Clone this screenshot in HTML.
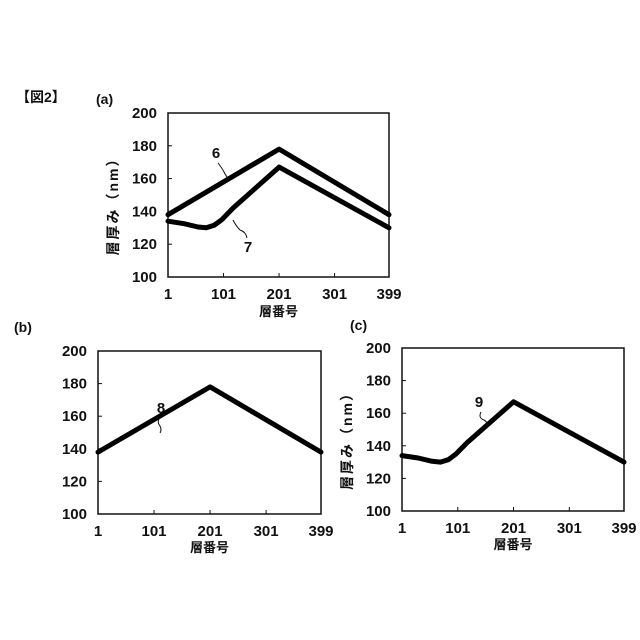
<!DOCTYPE html>
<html><head><meta charset="utf-8"><style>
body{margin:0;background:#fff}
svg{display:block}
text{font-family:"Liberation Sans","Noto Sans CJK JP",sans-serif;font-weight:bold;fill:#111}
</style></head><body>
<svg id="s" width="640" height="640" xmlns="http://www.w3.org/2000/svg">
<text x="16" y="102" font-size="14">【図2】</text>
<text x="96" y="104" font-size="14" font-weight="normal">(a)</text>
<text x="14" y="332" font-size="14" font-weight="normal">(b)</text>
<text x="350" y="330" font-size="14" font-weight="normal">(c)</text>
</svg>
<script>
const s=document.getElementById('s');const NS='http://www.w3.org/2000/svg';
function el(t,a,txt){const e=document.createElementNS(NS,t);for(const k in a)e.setAttribute(k,a[k]);if(txt!==undefined)e.textContent=txt;s.appendChild(e);return e;}
function panel(L,T,W,H,ytitle,xtY,series){
 el('rect',{x:L,y:T,width:W,height:H,fill:'none',stroke:'#111','stroke-width':1.5});
 [0,20,40,60,80,100].forEach(d=>{const y=T+H-d/100*H;el('text',{x:L-11,y:y+5,'font-size':15,'text-anchor':'end'},String(100+d));
  el('line',{x1:L,y1:y,x2:L+4,y2:y,stroke:'#111'});});
 [1,101,201,301,399].forEach(v=>{const x=L+(v-1)/398*W;el('text',{x:x,y:T+H+22,'font-size':15,'text-anchor':'middle'},String(v));
  el('line',{x1:x,y1:T+H,x2:x,y2:T+H-4,stroke:'#111'});});
 el('text',{x:L+W/2,y:xtY,'font-size':13,'text-anchor':'middle'},'層番号');
 if(ytitle){const cx=L-55,cy=T+H/2+8;el('text',{x:cx,y:cy+5,'font-size':14,'letter-spacing':2,'text-anchor':'middle',transform:`rotate(-90 ${cx} ${cy})`},'層厚み（nm）');}
 series.forEach(pts=>{const d=pts.map((p,i)=>(i?'L':'M')+(L+(p[0]-1)/398*W).toFixed(1)+' '+(T+(200-p[1])/100*H).toFixed(1)).join(' ');
  el('path',{d:d,fill:'none',stroke:'#000','stroke-width':5,'stroke-linejoin':'round','stroke-linecap':'round'});});
}
const l6=[[1,138],[201,178],[399,138]];
const l7=[[1,134],[30,132.5],[55,130.5],[70,130],[84,131.5],[98,135],[118,142],[201,167],[399,130]];
panel(168,113,221,164,true,316,[l6,l7]);
panel(98,351,223,163,false,552,[l6]);
panel(402,348,222,163,true,549,[l7]);
function lab(x,y,t,d){el('text',{x:x,y:y,'font-size':15,'text-anchor':'middle'},t);el('path',{d:d,fill:'none',stroke:'#111','stroke-width':1});}
lab(216,158,'6','M218 163 Q222 168 224 172 Q226 176 228 178');
lab(248,252,'7','M247 238 Q246 232 240 230 Q236 226 233 220');
lab(161,413,'8','M161 417 Q156 421 160 426 Q162 430 160 433');
lab(479,407,'9','M481 412 Q478 418 484 420 Q488 422 487 427');
</script>
</body></html>
